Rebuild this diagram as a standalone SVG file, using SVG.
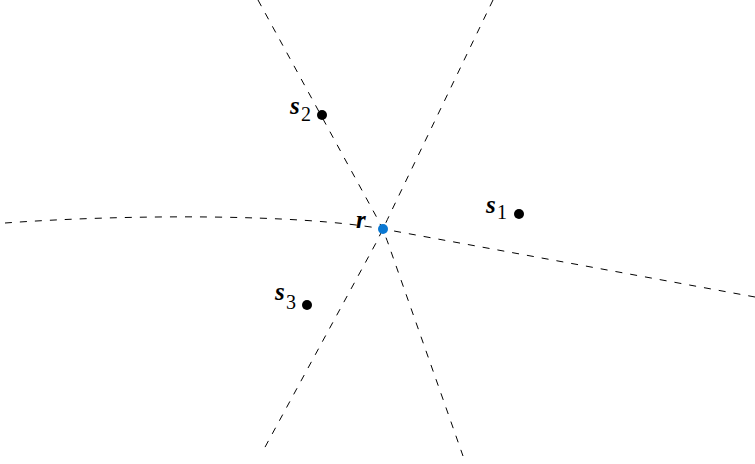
<svg xmlns="http://www.w3.org/2000/svg" width="755" height="464" viewBox="0 0 755 464">
<style>
.c{fill:none;stroke:#000;stroke-width:1;stroke-dasharray:7 8}
.v{font-family:"Liberation Serif","Times New Roman",serif;font-weight:bold;font-style:italic;font-size:25px;fill:#000}
.sub{font-family:"Liberation Serif","Times New Roman",serif;font-size:20px;fill:#000}
.dot{fill:#000}
</style>
<rect width="755" height="464" fill="#fff"/>
<g id="connectors">
<path class="c" d="M258,0 L376,216 Q383,229 388,243 L463,456"/>
<path class="c" d="M493,0 L390,214 Q383,229 376,243 L264,449"/>
<path class="c" d="M5,223 C130,214 300,214 383,229 L755,297"/>
</g>
<g id="s2"><circle class="dot" cx="322" cy="115" r="5"/><text x="290" y="114" class="v">s</text><text x="301" y="121" class="sub">2</text></g>
<g id="s1"><circle class="dot" cx="519" cy="214" r="5"/><text x="486" y="213" class="v">s</text><text x="497" y="219" class="sub">1</text></g>
<g id="s3"><circle class="dot" cx="307" cy="305" r="5"/><text x="275" y="300" class="v">s</text><text x="286" y="309" class="sub">3</text></g>
<g id="r"><circle cx="383" cy="229" r="5" fill="#0a78d2"/><text x="356" y="228" class="v">r</text></g>
</svg>
